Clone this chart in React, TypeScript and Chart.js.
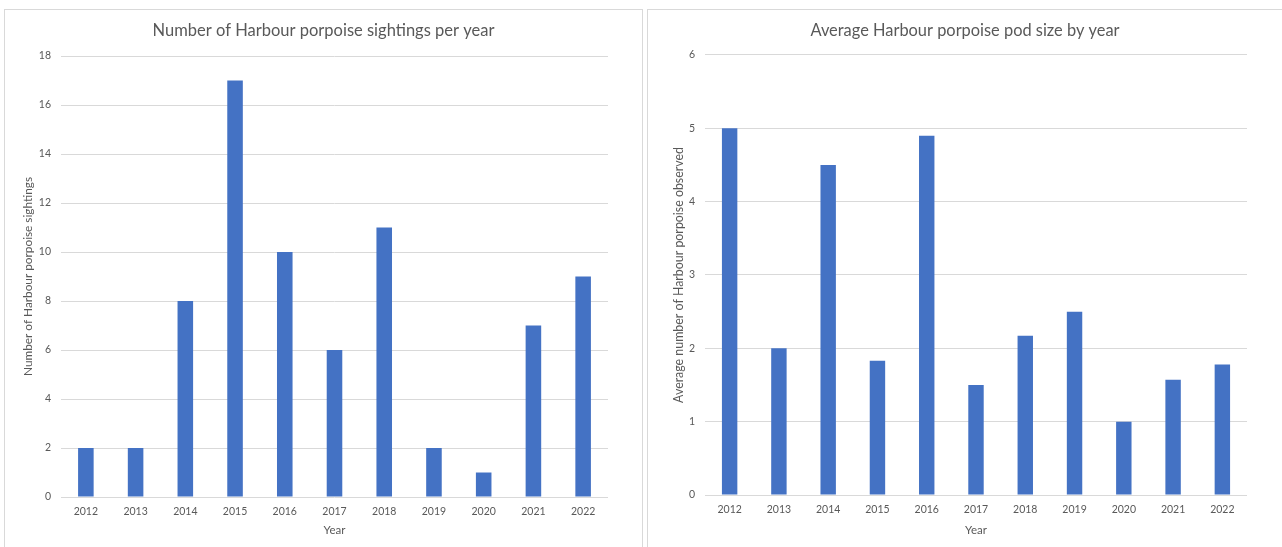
import { useEffect, useRef } from "react";
import { Chart, registerables } from "chart.js";

Chart.register(...registerables);

const years = ["2012", "2013", "2014", "2015", "2016", "2017", "2018", "2019", "2020", "2021", "2022"];
const sightings = [2, 2, 8, 17, 10, 6, 11, 2, 1, 7, 9];
const podSize = [5, 2, 4.5, 1.83, 4.9, 1.5, 2.17, 2.5, 1, 1.57, 1.78];

const sightingsTicks = { min: 0, max: 18, step: 2 };
const podTicks = { min: 0, max: 6, step: 1 };

const FONT = "Lato, 'Open Sans', sans-serif";
const TEXT = "#595959";
const GRID = "#d9d9d9";
const BAR = "#4472c4";

type PanelProps = {
  title: string;
  titleSize: number;
  yTitle: string;
  yTitleSize: number;
  values: number[];
  ticks: { min: number; max: number; step: number };
  width: number;
  height: number;
  yWidth: number;
  xHeight: number;
  rightPad: number;
  titleTop: number;
  titleBottom: number;
  yTitlePad: number;
};

function BarPanel(p: PanelProps) {
  const ref = useRef<HTMLCanvasElement | null>(null);

  useEffect(() => {
    if (!ref.current) return;
    const chart = new Chart(ref.current, {
      type: "bar",
      data: {
        labels: years,
        datasets: [
          {
            data: p.values,
            backgroundColor: BAR,
            borderWidth: 0,
            categoryPercentage: 1,
            barPercentage: 0.313,
          },
        ],
      },
      options: {
        responsive: false,
        animation: false,
        devicePixelRatio: 1,
        layout: { padding: { left: 0, right: p.rightPad, top: 0, bottom: 0 } },
        plugins: {
          legend: { display: false },
          tooltip: { enabled: false },
          title: {
            display: true,
            text: p.title,
            color: TEXT,
            font: { family: FONT, size: p.titleSize, weight: "normal" },
            padding: { top: p.titleTop, bottom: p.titleBottom },
          },
        },
        scales: {
          x: {
            grid: { display: false, drawTicks: false },
            border: { display: false },
            ticks: {
              color: TEXT,
              font: { family: FONT, size: 10.5 },
              padding: 8,
              maxRotation: 0,
            },
            title: {
              display: true,
              text: "Year",
              color: TEXT,
              font: { family: FONT, size: 11.5 },
              padding: { top: 0, bottom: 10 },
            },
            afterFit: (s: any) => {
              s.height = p.xHeight;
            },
          },
          y: {
            min: p.ticks.min,
            max: p.ticks.max,
            grid: { color: GRID, drawTicks: false, lineWidth: 1 },
            border: { display: false },
            ticks: {
              stepSize: p.ticks.step,
              color: TEXT,
              font: { family: FONT, size: 10.5 },
              padding: 10,
            },
            title: {
              display: true,
              text: p.yTitle,
              color: TEXT,
              font: { family: FONT, size: p.yTitleSize },
              padding: { top: p.yTitlePad, bottom: 0 },
            },
            afterFit: (s: any) => {
              s.width = p.yWidth;
            },
          },
        },
      },
      plugins: [
        {
          // centre the chart title across the full canvas width
          id: "fullWidthTitle",
          afterLayout(c: any) {
            const t = c.titleBlock;
            if (t) {
              t.left = 0;
              t.right = c.width;
              t.width = c.width;
            }
          },
        },
      ],
    });
    return () => chart.destroy();
  }, []);

  return <canvas ref={ref} width={p.width} height={p.height} style={{ display: "block" }} />;
}

export default function App() {
  const box = {
    position: "absolute" as const,
    top: 9,
    height: 600,
    boxSizing: "border-box" as const,
    border: `1px solid ${GRID}`,
    background: "#fff",
  };
  return (
    <div
      style={{
        position: "fixed",
        left: 0,
        top: 0,
        width: 1282,
        height: 547,
        overflow: "hidden",
        background: "#fff",
      }}
    >
      <div style={{ ...box, left: 4, width: 639 }}>
        <BarPanel
          title="Number of Harbour porpoise sightings per year"
          titleSize={16.5}
          yTitle="Number of Harbour porpoise sightings"
          yTitleSize={11.8}
          values={sightings}
          ticks={sightingsTicks}
          width={637}
          height={537}
          yWidth={56}
          xHeight={50}
          rightPad={34}
          titleTop={10.5}
          titleBottom={15.7}
          yTitlePad={16.5}
        />
      </div>
      <div style={{ ...box, left: 647, width: 700 }}>
        <BarPanel
          title="Average Harbour porpoise pod size by year"
          titleSize={16.4}
          yTitle="Average number of Harbour porpoise observed"
          yTitleSize={12.4}
          values={podSize}
          ticks={podTicks}
          width={634}
          height={537}
          yWidth={57}
          xHeight={52}
          rightPad={35}
          titleTop={10.5}
          titleBottom={14.8}
          yTitlePad={23.5}
        />
      </div>
    </div>
  );
}
